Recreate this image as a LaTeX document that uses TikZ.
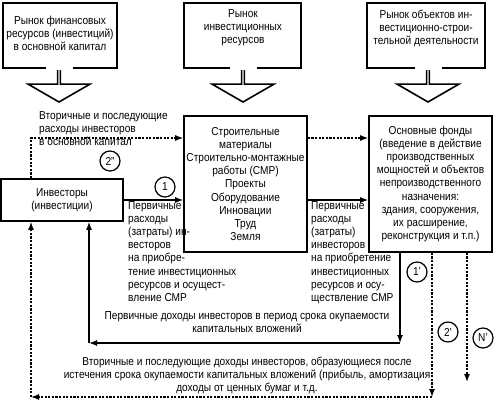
\documentclass[tikz,border=0pt]{standalone}
\usepackage{fontspec}
\setmainfont{Liberation Sans}[FakeStretch=0.88]
\usetikzlibrary{arrows.meta,calc,shapes.arrows}
\begin{document}
\begin{tikzpicture}[x=1pt,y=-1pt,
  bx/.style={draw, line width=1.6pt, inner sep=0pt, align=center},
  frame/.style={draw=black, line width=1.6pt},
  downarrow/.style={draw=black, fill=white, line width=1.6pt, single arrow, shape border rotate=270,
    minimum width=62pt, single arrow head extend=16.5pt, single arrow tip angle=120,
    minimum height=34pt, inner sep=0pt, outer sep=0pt, anchor=tail},
  con/.style={line width=1.3pt, -{Latex[length=8pt,width=6pt]}},
  dsh/.style={con, dash pattern=on 2.2pt off 1.4pt},
  num/.style={draw, circle, line width=1.2pt, minimum size=20pt, inner sep=0pt, fill=white},
  txt/.style={inner sep=0pt, align=left, anchor=north west},
  ctxt/.style={inner sep=0pt, align=center},
  font=\fontsize{11.5}{13.2}\selectfont]
\useasboundingbox (0,0) rectangle (500,401);

% top callout boxes
\draw[frame] (3,3) rectangle (117,68);
\node[downarrow] (aA) at (59,68) {};
\fill[white] (45.5,65) rectangle (72.5,70);
\node[ctxt] (mA) at (60,33.5) {Рынок финансовых\\ресурсов (инвестиций)\\в основной капитал};

\draw[frame] (184,3) rectangle (301,68);
\node[downarrow] (aB) at (243,68) {};
\fill[white] (229.5,65) rectangle (256.5,70);
\node[ctxt] (mB) at (243,28) {Рынок\\инвестиционных\\ресурсов};

\draw[frame] (367,3) rectangle (485,68);
\node[downarrow] (aC) at (428,68) {};
\fill[white] (414.5,65) rectangle (441.5,70);
\node[ctxt] (mC) at (426,28.5) {Рынок объектов ин-\\вестиционно-строи-\\тельной деятельности};

% main boxes
\node[bx, minimum width=122pt, minimum height=42pt] (F) at (62,200) {Инвесторы\\(инвестиции)};
\node[bx, minimum width=123pt, minimum height=136pt] (D) at (245.5,184)
  {Строительные\\материалы\\Строительно-монтажные\\работы (СМР)\\Проекты\\Оборудование\\Инновации\\Труд\\Земля};
\node[bx, minimum width=123pt, minimum height=136pt] (E) at (430.5,184)
  {Основные фонды\\(введение в действие\\производственных\\мощностей и объектов\\непроизводственного\\назначения:\\здания, сооружения,\\их расширение,\\реконструкция и т.п.)};

% turning points
\coordinate (c1) at (31,138);
\coordinate (r1) at (400,343);
\coordinate (r2) at (89,343);
\coordinate (s1) at (432,397);
\coordinate (s2) at (31,397);
\coordinate (n1) at (467,382);

% connectors
\draw[con] (F.east) -- (F.east -| D.west);
\draw[dsh] (F.north -| c1) |- (D.west |- c1);
\draw[dsh] (D.east |- c1) -- (E.west |- c1);
\draw[con] (D.east |- F.east) -- (E.west |- F.east);
\draw[con] (E.south -| r1) -- (r1);
\draw[con] (r1) -- (r2);
\draw[con] (r2) -- (F.south -| r2);
\draw[dsh] (E.south -| s1) -- (s1);
\draw[dsh] (s1) -- (s2);
\draw[dsh] (s2) -- (F.south -| s2);
\draw[dsh] (E.south -| n1) -- (n1);

% circles
\node[num] (k1) at (165,187) {1};
\node[num] (k2) at (110,161) {2''};
\node[num] (k3) at (417,272) {1'};
\node[num] (k4) at (448,332) {2'};
\node[num] (k5) at (483,338) {N'};

% labels
\node[txt] (t1) at (39,111) {Вторичные и последующие\\расходы инвесторов\\в основной капитал};
\node[txt] (t2) at (128,201) {Первичные\\расходы\\(затраты) ин-\\весторов\\на приобре-\\тение инвестиционных\\ресурсов и осущест-\\вление СМР};
\node[txt] (t3) at (311,201) {Первичные\\расходы\\(затраты)\\инвесторов\\на приобретение\\инвестиционных\\ресурсов и осу-\\ществление СМР};
\node[ctxt] (t4) at (247,322) {Первичные доходы инвесторов в период срока окупаемости\\капитальных вложений};
\node[ctxt] (t5) at (247,375.5) {Вторичные и последующие доходы инвесторов, образующиеся после\\истечения срока окупаемости капитальных вложений (прибыль, амортизация\\доходы от ценных бумаг и т.д.};
\end{tikzpicture}
\end{document}
